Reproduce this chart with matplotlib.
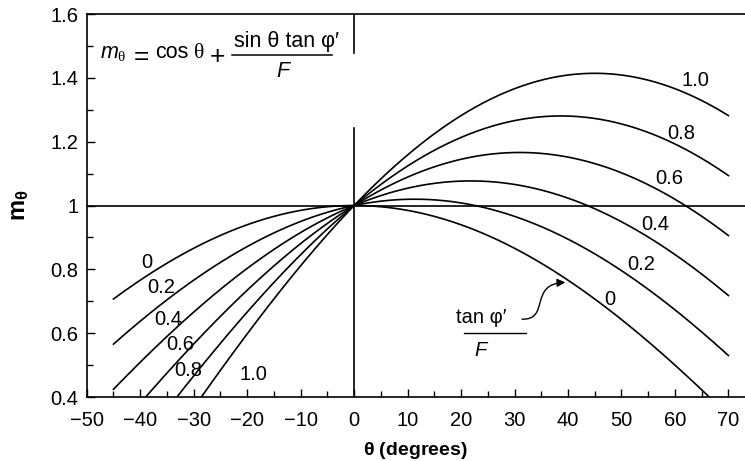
import numpy as np
import matplotlib
matplotlib.use("Agg")
import matplotlib.pyplot as plt
from matplotlib.path import Path
from matplotlib.patches import FancyArrowPatch

plt.rcParams['font.family'] = ['Liberation Sans', 'DejaVu Sans']
plt.rcParams['mathtext.fontset'] = 'custom'
plt.rcParams['mathtext.rm'] = 'Liberation Serif'
plt.rcParams['mathtext.it'] = 'Liberation Sans:italic'
plt.rcParams['mathtext.bf'] = 'Liberation Sans:bold'

# tan(phi')/F values for each curve
ratios = [0.0, 0.2, 0.4, 0.6, 0.8, 1.0]
ratio_labels = ["0", "0.2", "0.4", "0.6", "0.8", "1.0"]
theta_start, theta_end = -45, 70

# label anchor points (theta, m) on the right and left ends of each curve
right_label_pos = [(47.8, 0.704), (53.6, 0.814), (56.4, 0.942),
                   (59.0, 1.086), (61.2, 1.227), (63.9, 1.393)]
left_label_pos = [(-38.8, 0.823), (-36.0, 0.742), (-34.8, 0.644),
                  (-32.6, 0.566), (-31.1, 0.482), (-18.9, 0.469)]

xticks = [-50, -40, -30, -20, -10, 0, 10, 20, 30, 40, 50, 60, 70]
yticks = [0.4, 0.6, 0.8, 1.0, 1.2, 1.4, 1.6]
ytick_labels = ["0.4", "0.6", "0.8", "1", "1.2", "1.4", "1.6"]

FS = 14.5

fig = plt.figure(figsize=(7.45, 4.61), dpi=100)
ax = fig.add_axes([0.1164, 0.1388, 0.8836, 0.8308])

theta = np.linspace(theta_start, theta_end, 400)
rad = np.radians(theta)
for r in ratios:
    m = np.cos(rad) + np.sin(rad) * r
    ax.plot(theta, m, color='black', lw=1.2)

ax.set_xlim(-50, 73.1)
ax.set_ylim(0.4, 1.6)

# reference lines
ax.axhline(1.0, color='black', lw=1.2)
ax.plot([0, 0], [0.4, 1.243], color='black', lw=1.2)
ax.plot([0, 0], [1.478, 1.6], color='black', lw=1.2)

for (x, y), lab in zip(right_label_pos, ratio_labels):
    ax.text(x, y, lab, fontsize=FS, ha='center', va='center')
for (x, y), lab in zip(left_label_pos, ratio_labels):
    ax.text(x, y, lab, fontsize=FS, ha='center', va='center')

# equation: m_theta = cos theta + sin theta tan phi' / F
eq_base = 1.462
ax.text(-47.5, eq_base, r"$m_{\mathrm{\theta}}$", fontsize=15.5,
        ha='left', va='baseline')
ax.text(-39.7, 1.472, "=", fontsize=19, ha='center', va='center_baseline')
ax.text(-37.2, eq_base, "cos", fontsize=15.5, ha='left', va='baseline')
ax.text(-28.9, eq_base, "θ", fontsize=15.5, ha='center', va='baseline',
        family='Liberation Serif')
ax.text(-25.5, 1.472, "+", fontsize=19, ha='center', va='center_baseline')
ax.text(-12.7, 1.513, "sin θ tan φ′", fontsize=15.5, ha='center',
        va='center')
ax.plot([-22.8, -4.1], [1.472, 1.472], color='black', lw=1.1)
ax.text(-13.4, 1.421, "F", fontsize=15.5, ha='center', va='center',
        style='italic')

# tan(phi')/F callout with arrow
ax.text(23.8, 0.65, "tan φ′", fontsize=FS, ha='center', va='center')
ax.plot([20.6, 32.2], [0.599, 0.599], color='black', lw=1.0)
ax.text(23.7, 0.545, "F", fontsize=FS, ha='center', va='center',
        style='italic')
verts = [(31.4, 0.644), (36.7, 0.641), (32.6, 0.754), (39.5, 0.759)]
codes = [Path.MOVETO, Path.CURVE4, Path.CURVE4, Path.CURVE4]
arrow = FancyArrowPatch(path=Path(verts, codes), arrowstyle='-|>',
                        mutation_scale=12, lw=1.0, color='black')
ax.add_patch(arrow)

ax.set_xticks(xticks)
ax.set_xticks(np.arange(-45, 71, 10), minor=True)
ax.set_yticks(yticks)
ax.set_yticklabels(ytick_labels)
ax.set_yticks(np.arange(0.5, 1.6, 0.2), minor=True)
ax.tick_params(axis='both', which='major', direction='in', length=6,
               width=1.0, labelsize=FS)
ax.tick_params(axis='both', which='minor', direction='in', length=4,
               width=1.0)
ax.tick_params(axis='x', pad=10)
ax.tick_params(axis='y', pad=6)
ax.spines['right'].set_visible(False)
for s in ['left', 'bottom', 'top']:
    ax.spines[s].set_linewidth(1.2)

ax.set_xlabel(r"$\mathbf{\theta}$ (degrees)", fontsize=14, fontweight='bold',
              labelpad=7)
ax.set_ylabel(r"$\mathbf{m_{\theta}}$", fontsize=17, labelpad=14)

fig.savefig("out.png", dpi=100)
